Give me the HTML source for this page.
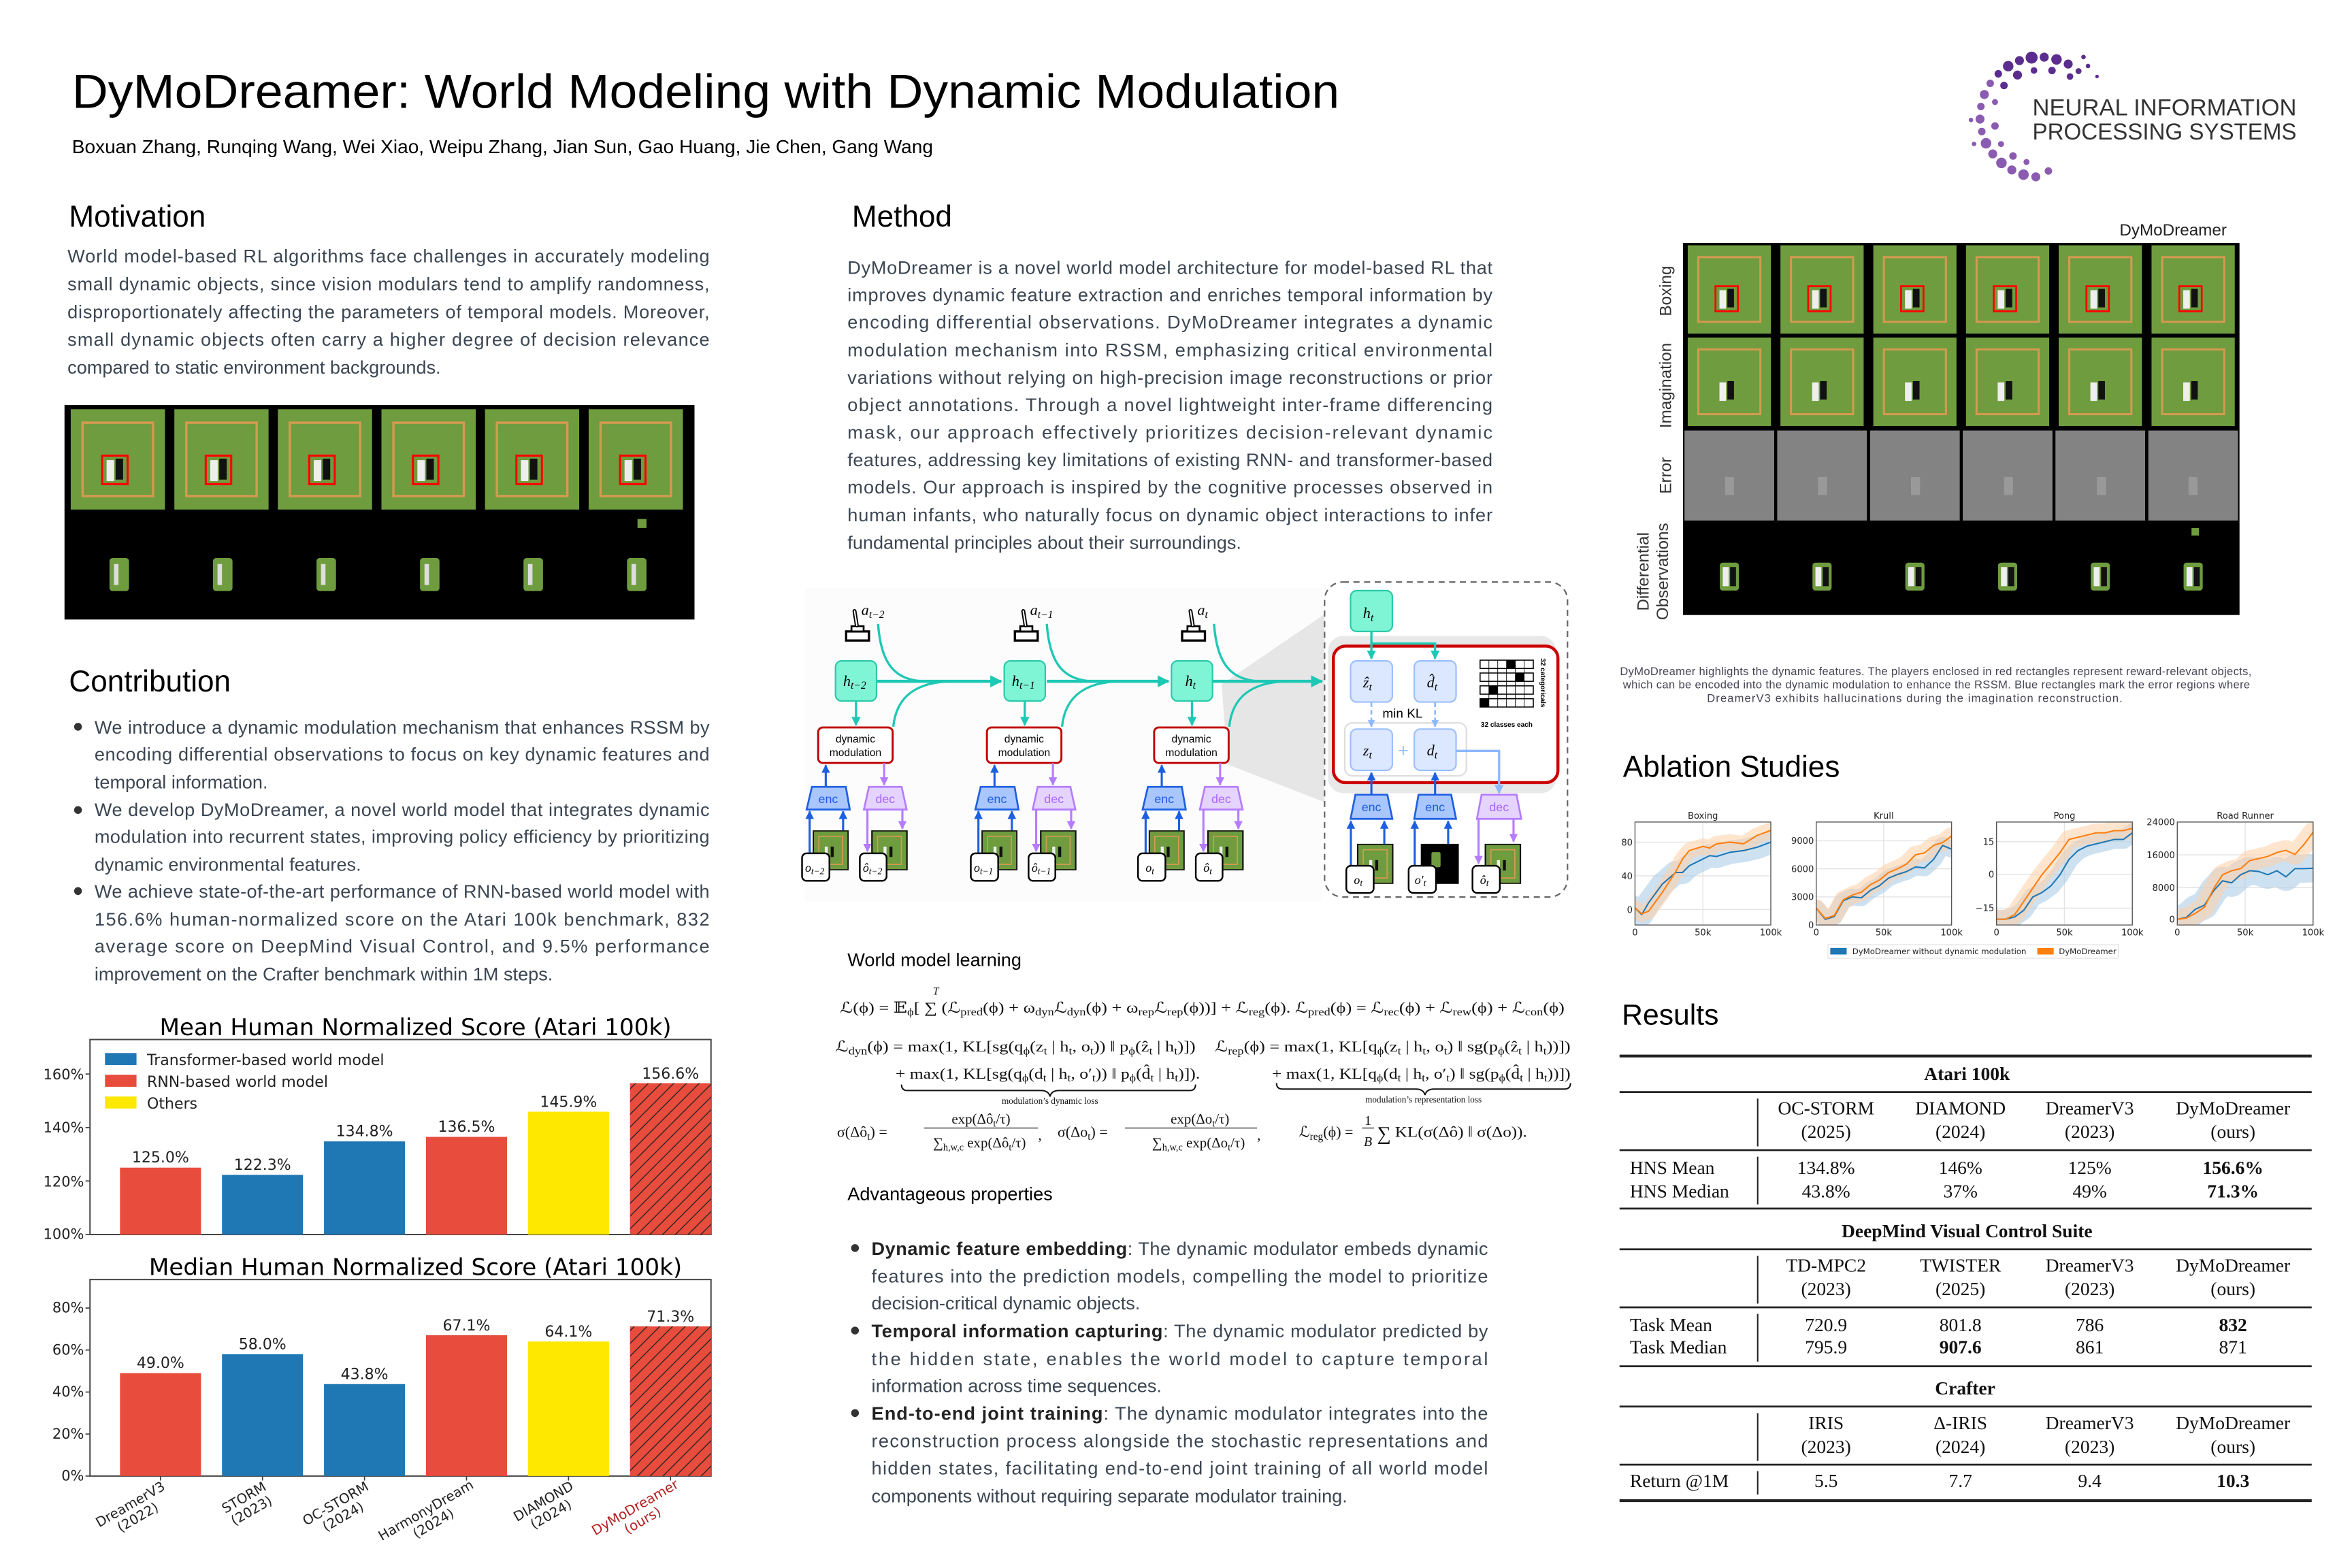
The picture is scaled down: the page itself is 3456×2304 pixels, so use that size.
<!DOCTYPE html>
<html><head><meta charset="utf-8"><style>
html,body{margin:0;padding:0;background:#fff;}
svg{display:block;}
.sf,.sf text,.sf tspan{font-family:"Liberation Serif","DejaVu Serif",serif;}
</style></head><body>
<svg xmlns="http://www.w3.org/2000/svg" width="3456" height="2304" viewBox="0 0 1568 1045.3" preserveAspectRatio="none" font-family="Liberation Sans, Arial, sans-serif">
<defs>
<symbol id="frR" viewBox="0 0 63 67">
<rect width="63" height="67" fill="#6e9c3f"/>
<rect x="8" y="9" width="47" height="49" fill="none" stroke="#d39a50" stroke-width="1.6"/>
<rect x="24" y="34" width="5" height="14" fill="#eee"/><rect x="30" y="33" width="5" height="14" fill="#111"/>
<rect x="21" y="31" width="17" height="19" fill="none" stroke="#f00" stroke-width="1.4"/>
</symbol>
<symbol id="fr" viewBox="0 0 63 67">
<rect width="63" height="67" fill="#6e9c3f"/>
<rect x="8" y="9" width="47" height="49" fill="none" stroke="#d39a50" stroke-width="1.6"/>
<rect x="24" y="34" width="5" height="14" fill="#eee"/><rect x="30" y="33" width="5" height="14" fill="#111"/>
</symbol>
<symbol id="frS" viewBox="0 0 24 27">
<rect width="24" height="27" fill="#6e9c3f" stroke="#111" stroke-width="1.5"/>
<rect x="4" y="4" width="16" height="19" fill="none" stroke="#d39a50" stroke-width="0.8"/>
<rect x="8" y="11" width="2" height="7" fill="#eee"/><rect x="12" y="11" width="2" height="7" fill="#111"/>
</symbol>
<symbol id="dif" viewBox="0 0 63 62">
<rect width="63" height="62" fill="#000"/>
<rect x="25" y="27" width="13" height="19" rx="2" fill="#6e9c3f"/>
<rect x="27" y="30" width="4" height="13" fill="#eee"/><rect x="32" y="30" width="4" height="13" fill="#111"/>
</symbol>
<marker id="mt" viewBox="0 0 10 10" refX="9" refY="5" markerWidth="4" markerHeight="4" orient="auto"><path d="M0,0L10,5L0,10z" fill="#1ec8b4"/></marker>
<marker id="mb" viewBox="0 0 10 10" refX="9" refY="5" markerWidth="4" markerHeight="4" orient="auto"><path d="M0,0L10,5L0,10z" fill="#1d5fe0"/></marker>
<marker id="mp" viewBox="0 0 10 10" refX="9" refY="5" markerWidth="4" markerHeight="4" orient="auto"><path d="M0,0L10,5L0,10z" fill="#b57cff"/></marker>
<marker id="ml" viewBox="0 0 10 10" refX="9" refY="5" markerWidth="4" markerHeight="4" orient="auto"><path d="M0,0L10,5L0,10z" fill="#8db8ff"/></marker>
<pattern id="hatch" patternUnits="userSpaceOnUse" width="6" height="6" patternTransform="rotate(45)"><rect width="6" height="6" fill="#e74c3c"/><line x1="0" y1="0" x2="0" y2="6" stroke="#222" stroke-width="1.2"/></pattern>
<clipPath id="c1"><rect x="33" y="45" width="290" height="220"/></clipPath>
<clipPath id="c2"><rect x="420" y="45" width="289" height="220"/></clipPath>
<clipPath id="c3"><rect x="805" y="45" width="290" height="220"/></clipPath>
<clipPath id="c4"><rect x="1191" y="45" width="290" height="220"/></clipPath>
</defs>

<!-- Header -->
<text x="48" y="72" font-size="32" textLength="845" lengthAdjust="spacingAndGlyphs">DyMoDreamer: World Modeling with Dynamic Modulation</text>
<text x="48" y="102" font-size="12.5" textLength="574" lengthAdjust="spacingAndGlyphs">Boxuan Zhang, Runqing Wang, Wei Xiao, Weipu Zhang, Jian Sun, Gao Huang, Jie Chen, Gang Wang</text>

<!-- Logo -->
<g fill="#5b2d8e">
<circle cx="1385.7" cy="47.4" r="2"/><circle cx="1378.8" cy="42.7" r="3"/><circle cx="1371" cy="39.6" r="3.5"/><circle cx="1362.8" cy="38.1" r="3"/><circle cx="1354.4" cy="38.4" r="4"/><circle cx="1346.3" cy="40.4" r="3"/><circle cx="1338.8" cy="44.1" r="3.5"/><circle cx="1332.2" cy="49.2" r="2.5"/>
<circle cx="1392" cy="44" r="1.5"/><circle cx="1380" cy="51" r="2.2"/><circle cx="1368" cy="47" r="2.5"/><circle cx="1356" cy="47" r="2.2"/><circle cx="1345" cy="50" r="3"/><circle cx="1336" cy="57" r="2.5"/><circle cx="1398" cy="51" r="1.2"/><circle cx="1389" cy="38" r="1.5"/>
</g>
<g fill="#8a5bb0">
<circle cx="1326.8" cy="55.6" r="2.5"/><circle cx="1322.9" cy="63" r="3"/><circle cx="1320.6" cy="71" r="2.5"/><circle cx="1320" cy="79.4" r="3"/><circle cx="1321.2" cy="87.7" r="2.5"/><circle cx="1324" cy="95.5" r="3.5"/><circle cx="1328.5" cy="102.6" r="3"/><circle cx="1334.3" cy="108.6" r="3.5"/><circle cx="1341.2" cy="113.3" r="3"/><circle cx="1349" cy="116.4" r="3.5"/><circle cx="1357.2" cy="117.9" r="3"/><circle cx="1365.6" cy="114" r="2.5"/>
<circle cx="1330" cy="68" r="2"/><circle cx="1330" cy="84" r="2.5"/><circle cx="1334" cy="96" r="2"/><circle cx="1342" cy="104" r="2.5"/><circle cx="1351" cy="108" r="2"/><circle cx="1314" cy="80" r="1.5"/><circle cx="1316" cy="96" r="1.5"/>
</g>
<text x="1355" y="77" font-size="15.5" fill="#333" textLength="176" lengthAdjust="spacingAndGlyphs">NEURAL INFORMATION</text>
<text x="1355" y="93" font-size="15.5" fill="#333" textLength="176" lengthAdjust="spacingAndGlyphs">PROCESSING SYSTEMS</text>

<!-- Motivation -->
<text x="46" y="151" font-size="20">Motivation</text>
<g font-size="12.3" fill="#3b4652">
<text x="45" y="175" textLength="428" lengthAdjust="spacing">World model-based RL algorithms face challenges in accurately modeling</text>
<text x="45" y="193.5" textLength="428" lengthAdjust="spacing">small dynamic objects, since  vision modulars tend to amplify randomness,</text>
<text x="45" y="212" textLength="428" lengthAdjust="spacing">disproportionately affecting the parameters of temporal models. Moreover,</text>
<text x="45" y="230.5" textLength="428" lengthAdjust="spacing">small dynamic objects often carry a higher degree of decision relevance</text>
<text x="45" y="249">compared to static environment backgrounds.</text>
</g>
<rect x="43" y="270" width="420" height="143" fill="#000"/>
<g>
<use href="#frR" x="47.1" y="272.6" width="62.9" height="67.3"/>
<use href="#frR" x="116.2" y="272.6" width="62.9" height="67.3"/>
<use href="#frR" x="185.2" y="272.6" width="62.9" height="67.3"/>
<use href="#frR" x="254.3" y="272.6" width="62.9" height="67.3"/>
<use href="#frR" x="323.3" y="272.6" width="62.9" height="67.3"/>
<use href="#frR" x="392.4" y="272.6" width="62.9" height="67.3"/>
</g>
<g fill="#6e9c3f">
<rect x="73" y="372" width="13" height="22" rx="2"/><rect x="142" y="372" width="13" height="22" rx="2"/><rect x="211" y="372" width="13" height="22" rx="2"/><rect x="280" y="372" width="13" height="22" rx="2"/><rect x="349" y="372" width="13" height="22" rx="2"/><rect x="418" y="372" width="13" height="22" rx="2"/>
<rect x="425" y="346" width="6" height="6"/>
</g>
<g fill="#ddd"><rect x="76" y="376" width="3" height="14"/><rect x="145" y="376" width="3" height="14"/><rect x="214" y="376" width="3" height="14"/><rect x="283" y="376" width="3" height="14"/><rect x="352" y="376" width="3" height="14"/><rect x="421" y="376" width="3" height="14"/></g>

<!-- Contribution -->
<text x="46" y="461" font-size="20">Contribution</text>
<g fill="#333"><circle cx="52" cy="484.5" r="2.6"/><circle cx="52" cy="540" r="2.6"/><circle cx="52" cy="594" r="2.6"/></g>
<g font-size="12.3" fill="#3b4652">
<text x="63" y="489" textLength="410" lengthAdjust="spacing">We introduce a dynamic modulation mechanism that enhances RSSM by</text>
<text x="63" y="507" textLength="410" lengthAdjust="spacing">encoding differential observations to focus on key dynamic features and</text>
<text x="63" y="525.5">temporal information.</text>
<text x="63" y="544" textLength="410" lengthAdjust="spacing">We develop DyMoDreamer, a novel world model that integrates dynamic</text>
<text x="63" y="562" textLength="410" lengthAdjust="spacing">modulation into recurrent states, improving policy efficiency by prioritizing</text>
<text x="63" y="580.5">dynamic environmental features.</text>
<text x="63" y="598.5" textLength="410" lengthAdjust="spacing">We achieve state-of-the-art performance of RNN-based world model with</text>
<text x="63" y="617" textLength="410" lengthAdjust="spacing">156.6% human-normalized score on the Atari 100k benchmark, 832</text>
<text x="63" y="635" textLength="410" lengthAdjust="spacing">average score on DeepMind Visual Control, and 9.5% performance</text>
<text x="63" y="653.5">improvement on the Crafter benchmark within 1M steps.</text>
</g>

<!-- Chart 1 -->
<g font-family="DejaVu Sans, sans-serif">
<text x="277" y="690" font-size="15.5" text-anchor="middle">Mean Human Normalized Score (Atari 100k)</text>
<rect x="60" y="693" width="414" height="130" fill="none" stroke="#444" stroke-width="0.9"/>
<g font-size="9.5" text-anchor="end" fill="#222">
<text x="56" y="826">100%</text><text x="56" y="791">120%</text><text x="56" y="755">140%</text><text x="56" y="719.5">160%</text>
</g>
<g stroke="#444" stroke-width="0.8"><line x1="57" y1="823" x2="60" y2="823"/><line x1="57" y1="787.3" x2="60" y2="787.3"/><line x1="57" y1="751.7" x2="60" y2="751.7"/><line x1="57" y1="716" x2="60" y2="716"/></g>
<rect x="80" y="778.4" width="54" height="44.6" fill="#e74c3c"/>
<rect x="148" y="783.2" width="54" height="39.8" fill="#1f77b4"/>
<rect x="216" y="760.9" width="54" height="62.1" fill="#1f77b4"/>
<rect x="284" y="757.9" width="54" height="65.1" fill="#e74c3c"/>
<rect x="352" y="741.1" width="54" height="81.9" fill="#ffe800"/>
<rect x="420" y="722.1" width="54" height="100.9" fill="url(#hatch)"/>
<g font-size="10" text-anchor="middle" fill="#222">
<text x="107" y="775">125.0%</text><text x="175" y="780">122.3%</text><text x="243" y="757.5">134.8%</text><text x="311" y="754.5">136.5%</text><text x="379" y="738">145.9%</text><text x="447" y="719">156.6%</text>
</g>
<rect x="70" y="702" width="21" height="8" fill="#1f77b4"/><rect x="70" y="716.5" width="21" height="8" fill="#e74c3c"/><rect x="70" y="731" width="21" height="8" fill="#ffe800"/>
<g font-size="10" fill="#222"><text x="98" y="710">Transformer-based world model</text><text x="98" y="724.5">RNN-based world model</text><text x="98" y="739">Others</text></g>

<!-- Chart 2 -->
<text x="277" y="850" font-size="15.5" text-anchor="middle">Median Human Normalized Score (Atari 100k)</text>
<rect x="60" y="853" width="414" height="131" fill="none" stroke="#444" stroke-width="0.9"/>
<g font-size="9.5" text-anchor="end" fill="#222">
<text x="56" y="987">0%</text><text x="56" y="959">20%</text><text x="56" y="931">40%</text><text x="56" y="903">60%</text><text x="56" y="875">80%</text>
</g>
<g stroke="#444" stroke-width="0.8"><line x1="57" y1="984" x2="60" y2="984"/><line x1="57" y1="956" x2="60" y2="956"/><line x1="57" y1="928" x2="60" y2="928"/><line x1="57" y1="900" x2="60" y2="900"/><line x1="57" y1="872" x2="60" y2="872"/></g>
<rect x="80" y="915.4" width="54" height="68.6" fill="#e74c3c"/>
<rect x="148" y="902.8" width="54" height="81.2" fill="#1f77b4"/>
<rect x="216" y="922.7" width="54" height="61.3" fill="#1f77b4"/>
<rect x="284" y="890.1" width="54" height="93.9" fill="#e74c3c"/>
<rect x="352" y="894.3" width="54" height="89.7" fill="#ffe800"/>
<rect x="420" y="884.2" width="54" height="99.8" fill="url(#hatch)"/>
<g font-size="10" text-anchor="middle" fill="#222">
<text x="107" y="912">49.0%</text><text x="175" y="899.5">58.0%</text><text x="243" y="919.5">43.8%</text><text x="311" y="887">67.1%</text><text x="379" y="891">64.1%</text><text x="447" y="881">71.3%</text>
</g>
<g stroke="#444" stroke-width="0.8"><line x1="107" y1="984" x2="107" y2="987"/><line x1="175" y1="984" x2="175" y2="987"/><line x1="243" y1="984" x2="243" y2="987"/><line x1="311" y1="984" x2="311" y2="987"/><line x1="379" y1="984" x2="379" y2="987"/><line x1="447" y1="984" x2="447" y2="987"/></g>
<g font-size="9" fill="#222" text-anchor="middle">
<g transform="translate(110,993) rotate(-30)"><text x="-25" y="0">DreamerV3</text><text x="-25" y="10">(2022)</text></g>
<g transform="translate(178,993) rotate(-30)"><text x="-16" y="0">STORM</text><text x="-16" y="10">(2023)</text></g>
<g transform="translate(246,993) rotate(-30)"><text x="-24" y="0">OC-STORM</text><text x="-24" y="10">(2024)</text></g>
<g transform="translate(314,993) rotate(-30)"><text x="-33" y="0">HarmonyDream</text><text x="-33" y="10">(2024)</text></g>
<g transform="translate(382,993) rotate(-30)"><text x="-21" y="0">DIAMOND</text><text x="-21" y="10">(2024)</text></g>
<g transform="translate(450,993) rotate(-30)" fill="#b22222"><text x="-29" y="0">DyMoDreamer</text><text x="-29" y="10">(ours)</text></g>
</g>
</g>

<!-- Method -->
<text x="568" y="151" font-size="20">Method</text>
<g font-size="12.3" fill="#3b4652">
<text x="565" y="182.5" textLength="430" lengthAdjust="spacing">DyMoDreamer is a novel world model architecture for model-based RL that</text>
<text x="565" y="200.8" textLength="430" lengthAdjust="spacing">improves dynamic feature extraction and enriches temporal information by</text>
<text x="565" y="219" textLength="430" lengthAdjust="spacing">encoding differential observations. DyMoDreamer integrates a dynamic</text>
<text x="565" y="237.5" textLength="430" lengthAdjust="spacing">modulation mechanism into RSSM, emphasizing critical environmental</text>
<text x="565" y="255.8" textLength="430" lengthAdjust="spacing">variations without relying on high-precision image reconstructions or prior</text>
<text x="565" y="274" textLength="430" lengthAdjust="spacing">object annotations. Through a novel lightweight inter-frame differencing</text>
<text x="565" y="292.5" textLength="430" lengthAdjust="spacing">mask, our approach effectively prioritizes decision-relevant dynamic</text>
<text x="565" y="310.8" textLength="430" lengthAdjust="spacing">features, addressing key limitations of existing RNN- and transformer-based</text>
<text x="565" y="329" textLength="430" lengthAdjust="spacing">models. Our approach is inspired by the cognitive processes observed in</text>
<text x="565" y="347.5" textLength="430" lengthAdjust="spacing">human infants, who naturally focus on dynamic object interactions to infer</text>
<text x="565" y="365.8">fundamental principles about their surroundings.</text>
</g>

<!-- Diagram -->
<g transform="translate(557,388) scale(1.0135,1.0077) translate(-552,-384.3)">
<rect x="532" y="388" width="340" height="208" fill="#fcfcfc"/>
<polygon points="806,452 879,402 879,532 810,505" fill="#e6e6e6"/>
<rect x="873.7" y="384.3" width="159.8" height="208.4" rx="12" fill="#fff" stroke="#666" stroke-width="1" stroke-dasharray="4,3"/>
<rect x="876" y="420" width="150" height="104" rx="10" fill="#e8e8e8"/>
<g stroke="#1ec8b4" stroke-width="2" fill="none">
<line x1="579" y1="450" x2="661" y2="450" marker-end="url(#mt)"/>
<line x1="691" y1="450" x2="771" y2="450" marker-end="url(#mt)"/>
<line x1="800" y1="450" x2="872" y2="450" marker-end="url(#mt)"/>
</g>
<g id="ts0">
<g stroke="#1ec8b4" stroke-width="1.5" fill="none">
<path d="M580,412 C582,440 592,449 610,450"/>
<path d="M590,480 C592,460 605,450 630,450"/>
<line x1="565.5" y1="462.5" x2="565.5" y2="479" marker-end="url(#mt)"/>
</g>
<rect x="559" y="417" width="15" height="6" fill="#fff" stroke="#000" stroke-width="1.5"/>
<rect x="562.5" y="413.5" width="8" height="3.5" fill="#fff" stroke="#000" stroke-width="1.2"/>
<line x1="566" y1="413" x2="564.5" y2="403.5" stroke="#000" stroke-width="2.6" stroke-linecap="round"/>
<line x1="566" y1="413" x2="564.5" y2="403.5" stroke="#fff" stroke-width="0.9" stroke-linecap="round"/>
<rect x="552" y="436.5" width="27" height="26.5" rx="4" fill="#7ff5d5" stroke="#2cc9aa" stroke-width="1"/>
<rect x="540.6" y="480.5" width="49" height="23.5" rx="3" fill="#fff" stroke="#c00000" stroke-width="1.3"/>
<text x="565.1" y="490.5" font-size="7" text-anchor="middle">dynamic</text>
<text x="565.1" y="499.5" font-size="7" text-anchor="middle">modulation</text>
<g stroke="#1d5fe0" stroke-width="1.4" fill="none">
<line x1="545.6" y1="519.8" x2="545.6" y2="505.5" marker-end="url(#mb)"/>
<line x1="535" y1="563.8" x2="535" y2="536" marker-end="url(#mb)"/>
<line x1="557" y1="548.6" x2="557" y2="536" marker-end="url(#mb)"/>
</g>
<g stroke="#b57cff" stroke-width="1.4" fill="none">
<line x1="584" y1="504" x2="584" y2="518.5" marker-end="url(#mp)"/>
<line x1="573" y1="534.8" x2="573" y2="562.5" marker-end="url(#mp)"/>
<line x1="596" y1="534.8" x2="596" y2="547.5" marker-end="url(#mp)"/>
</g>
<polygon points="536.5,519.8 558.8,519.8 561.4,534.8 533,534.8" fill="#a9c6ff" stroke="#1d5fe0" stroke-width="1.2"/>
<text x="547.2" y="530.5" font-size="8" fill="#1d5fe0" text-anchor="middle">enc</text>
<polygon points="574,519.8 595.5,519.8 598.8,534.8 570.7,534.8" fill="#e5d4ff" stroke="#b57cff" stroke-width="1.2"/>
<text x="584.7" y="530.5" font-size="8" fill="#a966ff" text-anchor="middle">dec</text>
<use href="#frS" x="537" y="548.6" width="23.7" height="26.4"/>
<use href="#frS" x="575.5" y="548.6" width="24" height="26.4"/>
</g>
<use href="#ts0" x="111"/>
<use href="#ts0" x="221"/>
<g class="sf" font-style="italic" font-size="10">
<text x="569" y="406">a<tspan font-size="7" dy="2">t−2</tspan></text>
<text x="680" y="406">a<tspan font-size="7" dy="2">t−1</tspan></text>
<text x="790" y="406">a<tspan font-size="7" dy="2">t</tspan></text>
<text x="557" y="453">h<tspan font-size="7" dy="2">t−2</tspan></text>
<text x="668" y="453">h<tspan font-size="7" dy="2">t−1</tspan></text>
<text x="782" y="453">h<tspan font-size="7" dy="2">t</tspan></text>
</g>
<g fill="#fff" stroke="#000" stroke-width="1.1">
<rect x="530" y="563.8" width="18" height="18.2" rx="3"/><rect x="568" y="563.8" width="17.6" height="18.2" rx="3"/>
<rect x="641" y="563.8" width="18" height="18.2" rx="3"/><rect x="679" y="563.8" width="17.6" height="18.2" rx="3"/>
<rect x="751" y="563.8" width="18" height="18.2" rx="3"/><rect x="789" y="563.8" width="17.6" height="18.2" rx="3"/>
</g>
<g class="sf" font-style="italic" font-size="8">
<text x="532" y="576">o<tspan font-size="6" dy="1.5">t−2</tspan></text>
<text x="570" y="576">ô<tspan font-size="6" dy="1.5">t−2</tspan></text>
<text x="643" y="576">o<tspan font-size="6" dy="1.5">t−1</tspan></text>
<text x="681" y="576">ô<tspan font-size="6" dy="1.5">t−1</tspan></text>
<text x="756" y="576">o<tspan font-size="6" dy="1.5">t</tspan></text>
<text x="794" y="576">ô<tspan font-size="6" dy="1.5">t</tspan></text>
</g>
<rect x="879.5" y="426.7" width="147.7" height="90.3" rx="8" fill="#fff" stroke="#cc0000" stroke-width="2"/>
<g stroke="#1ec8b4" stroke-width="1.5" fill="none">
<line x1="904.5" y1="417" x2="904.5" y2="435" marker-end="url(#mt)"/>
<polyline points="904.5,425 946.4,425 946.4,435" marker-end="url(#mt)"/>
</g>
<rect x="890.8" y="390" width="27.5" height="27" rx="4" fill="#7ff5d5" stroke="#2cc9aa"/>
<text class="sf" x="899" y="408" font-style="italic" font-size="10">h<tspan font-size="7" dy="2">t</tspan></text>
<rect x="887" y="477.5" width="80" height="35" rx="5" fill="none" stroke="#ddd"/>
<g fill="#dce8ff" stroke="#9cc0ff">
<rect x="890.8" y="436.5" width="27.5" height="27.2" rx="4"/><rect x="932.7" y="436.5" width="27.5" height="27.2" rx="4"/>
<rect x="890.8" y="481.6" width="27.5" height="27.3" rx="4"/><rect x="932.7" y="481.6" width="27.5" height="27.3" rx="4"/>
</g>
<g class="sf" font-style="italic" font-size="10">
<text x="899" y="454">ẑ<tspan font-size="7" dy="2">t</tspan></text><text x="941" y="454">d̂<tspan font-size="7" dy="2">t</tspan></text>
<text x="899" y="499">z<tspan font-size="7" dy="2">t</tspan></text><text x="941" y="499">d<tspan font-size="7" dy="2">t</tspan></text>
</g>
<g stroke="#8db8ff" stroke-width="1.2" fill="none">
<line x1="904.5" y1="464" x2="904.5" y2="480" stroke-dasharray="3,2" marker-end="url(#ml)"/>
<line x1="946.4" y1="464" x2="946.4" y2="480" stroke-dasharray="3,2" marker-end="url(#ml)"/>
<polyline points="960.2,496 988.5,496 988.5,524" stroke-width="1.5" marker-end="url(#ml)"/>
</g>
<text x="925" y="474" font-size="8.5" text-anchor="middle">min KL</text>
<text x="925.5" y="500" font-size="12" fill="#9cc0ff" text-anchor="middle">+</text>
<g stroke="#000" stroke-width="0.7" fill="#fff">
<rect x="976" y="436" width="35" height="5.5"/><rect x="976" y="444.5" width="35" height="5.5"/><rect x="976" y="453" width="35" height="5.5"/><rect x="976" y="461.5" width="35" height="5.5"/>
</g>
<g fill="#000"><rect x="993.5" y="436" width="5.8" height="5.5"/><rect x="999.3" y="444.5" width="5.8" height="5.5"/><rect x="981.8" y="453" width="5.8" height="5.5"/><rect x="976" y="461.5" width="5.8" height="5.5"/></g>
<g stroke="#000" stroke-width="0.4"><line x1="981.8" y1="436" x2="981.8" y2="467"/><line x1="987.6" y1="436" x2="987.6" y2="467"/><line x1="993.4" y1="436" x2="993.4" y2="467"/><line x1="999.2" y1="436" x2="999.2" y2="467"/><line x1="1005" y1="436" x2="1005" y2="467"/></g>
<text x="993.5" y="480" font-size="4.5" font-weight="bold" text-anchor="middle">32 classes each</text>
<text transform="translate(1016,451) rotate(90)" font-size="4.5" font-weight="bold" text-anchor="middle">32 categoricals</text>
<g stroke="#1d5fe0" stroke-width="1.4" fill="none">
<line x1="904.5" y1="525" x2="904.5" y2="510.5" marker-end="url(#mb)"/>
<line x1="946.4" y1="525" x2="946.4" y2="510.5" marker-end="url(#mb)"/>
<line x1="891" y1="572" x2="891" y2="542.5" marker-end="url(#mb)"/>
<line x1="913" y1="557.5" x2="913" y2="542.5" marker-end="url(#mb)"/>
<line x1="933" y1="572" x2="933" y2="542.5" marker-end="url(#mb)"/>
<line x1="955" y1="557.5" x2="955" y2="542.5" marker-end="url(#mb)"/>
</g>
<g stroke="#b57cff" stroke-width="1.4" fill="none">
<line x1="975" y1="541" x2="975" y2="570.5" marker-end="url(#mp)"/>
<line x1="998" y1="541" x2="998" y2="556" marker-end="url(#mp)"/>
</g>
<polygon points="894,525 915,525 918.3,541 890.8,541" fill="#a9c6ff" stroke="#1d5fe0" stroke-width="1.2"/>
<polygon points="935.5,525 957,525 960.2,541 932.7,541" fill="#a9c6ff" stroke="#1d5fe0" stroke-width="1.2"/>
<polygon points="977,525 1000,525 1003.1,541 973.9,541" fill="#e5d4ff" stroke="#b57cff" stroke-width="1.2"/>
<g font-size="8" text-anchor="middle"><text x="904.5" y="536" fill="#1d5fe0">enc</text><text x="946.4" y="536" fill="#1d5fe0">enc</text><text x="988.5" y="536" fill="#a966ff">dec</text></g>
<use href="#frS" x="895" y="557.5" width="24" height="26.5"/>
<rect x="937" y="557.5" width="25" height="26.5" fill="#000"/><rect x="944" y="563" width="6" height="10" rx="1" fill="#6e9c3f"/>
<use href="#frS" x="979" y="557.5" width="24" height="26.5"/>
<g fill="#fff" stroke="#000" stroke-width="1.1"><rect x="888" y="572" width="18" height="18" rx="3"/><rect x="929" y="572" width="18" height="18" rx="3"/><rect x="971" y="572" width="18" height="18" rx="3"/></g>
<g class="sf" font-style="italic" font-size="8">
<text x="893" y="584">o<tspan font-size="6" dy="1.5">t</tspan></text>
<text x="933" y="584">o′<tspan font-size="6" dy="1.5">t</tspan></text>
<text x="976" y="584">ô<tspan font-size="6" dy="1.5">t</tspan></text>
</g>
</g>

<!-- World model learning -->
<text x="565" y="644" font-size="12.3">World model learning</text>
<g class="sf" font-size="10" fill="#111">
<text x="622" y="663" font-size="7" font-style="italic">T</text>
<text x="560" y="675" textLength="483" lengthAdjust="spacingAndGlyphs">ℒ(ϕ) = 𝔼<tspan font-size="7" dy="2">ϕ</tspan><tspan dy="-2">[ ∑ (ℒ</tspan><tspan font-size="7" dy="2">pred</tspan><tspan dy="-2">(ϕ) + ω</tspan><tspan font-size="7" dy="2">dyn</tspan><tspan dy="-2">ℒ</tspan><tspan font-size="7" dy="2">dyn</tspan><tspan dy="-2">(ϕ) + ω</tspan><tspan font-size="7" dy="2">rep</tspan><tspan dy="-2">ℒ</tspan><tspan font-size="7" dy="2">rep</tspan><tspan dy="-2">(ϕ))] + ℒ</tspan><tspan font-size="7" dy="2">reg</tspan><tspan dy="-2">(ϕ).  ℒ</tspan><tspan font-size="7" dy="2">pred</tspan><tspan dy="-2">(ϕ) = ℒ</tspan><tspan font-size="7" dy="2">rec</tspan><tspan dy="-2">(ϕ) + ℒ</tspan><tspan font-size="7" dy="2">rew</tspan><tspan dy="-2">(ϕ) + ℒ</tspan><tspan font-size="7" dy="2">con</tspan><tspan dy="-2">(ϕ)</tspan></text>
<text x="557" y="701" textLength="240" lengthAdjust="spacingAndGlyphs">ℒ<tspan font-size="7" dy="2">dyn</tspan><tspan dy="-2">(ϕ) = max(1, KL[sg(q</tspan><tspan font-size="7" dy="2">ϕ</tspan><tspan dy="-2">(z</tspan><tspan font-size="7" dy="2">t</tspan><tspan dy="-2"> | h</tspan><tspan font-size="7" dy="2">t</tspan><tspan dy="-2">, o</tspan><tspan font-size="7" dy="2">t</tspan><tspan dy="-2">)) ‖ p</tspan><tspan font-size="7" dy="2">ϕ</tspan><tspan dy="-2">(ẑ</tspan><tspan font-size="7" dy="2">t</tspan><tspan dy="-2"> | h</tspan><tspan font-size="7" dy="2">t</tspan><tspan dy="-2">)])</tspan></text>
<text x="810" y="701" textLength="237" lengthAdjust="spacingAndGlyphs">ℒ<tspan font-size="7" dy="2">rep</tspan><tspan dy="-2">(ϕ) = max(1, KL[q</tspan><tspan font-size="7" dy="2">ϕ</tspan><tspan dy="-2">(z</tspan><tspan font-size="7" dy="2">t</tspan><tspan dy="-2"> | h</tspan><tspan font-size="7" dy="2">t</tspan><tspan dy="-2">, o</tspan><tspan font-size="7" dy="2">t</tspan><tspan dy="-2">) ‖ sg(p</tspan><tspan font-size="7" dy="2">ϕ</tspan><tspan dy="-2">(ẑ</tspan><tspan font-size="7" dy="2">t</tspan><tspan dy="-2"> | h</tspan><tspan font-size="7" dy="2">t</tspan><tspan dy="-2">))])</tspan></text>
<text x="597" y="719" textLength="203" lengthAdjust="spacingAndGlyphs">+ max(1, KL[sg(q<tspan font-size="7" dy="2">ϕ</tspan><tspan dy="-2">(d</tspan><tspan font-size="7" dy="2">t</tspan><tspan dy="-2"> | h</tspan><tspan font-size="7" dy="2">t</tspan><tspan dy="-2">, o′</tspan><tspan font-size="7" dy="2">t</tspan><tspan dy="-2">)) ‖ p</tspan><tspan font-size="7" dy="2">ϕ</tspan><tspan dy="-2">(d̂</tspan><tspan font-size="7" dy="2">t</tspan><tspan dy="-2"> | h</tspan><tspan font-size="7" dy="2">t</tspan><tspan dy="-2">)]).</tspan></text>
<text x="848" y="719" textLength="199" lengthAdjust="spacingAndGlyphs">+ max(1, KL[q<tspan font-size="7" dy="2">ϕ</tspan><tspan dy="-2">(d</tspan><tspan font-size="7" dy="2">t</tspan><tspan dy="-2"> | h</tspan><tspan font-size="7" dy="2">t</tspan><tspan dy="-2">, o′</tspan><tspan font-size="7" dy="2">t</tspan><tspan dy="-2">) ‖ sg(p</tspan><tspan font-size="7" dy="2">ϕ</tspan><tspan dy="-2">(d̂</tspan><tspan font-size="7" dy="2">t</tspan><tspan dy="-2"> | h</tspan><tspan font-size="7" dy="2">t</tspan><tspan dy="-2">))])</tspan></text>
<text x="700" y="736" font-size="6" text-anchor="middle">modulation’s dynamic loss</text>
<text x="949" y="735" font-size="6" text-anchor="middle">modulation’s representation loss</text>
<text x="558" y="758">σ(Δô<tspan font-size="7" dy="2">t</tspan><tspan dy="-2">) =</tspan></text>
<text x="654" y="749" text-anchor="middle" font-size="9.5">exp(Δô<tspan font-size="6.5" dy="2">t</tspan><tspan dy="-2">/τ)</tspan></text>
<text x="653" y="765" text-anchor="middle" font-size="9.5">∑<tspan font-size="6.5" dy="2">h,w,c</tspan><tspan dy="-2"> exp(Δô</tspan><tspan font-size="6.5" dy="2">t</tspan><tspan dy="-2">/τ)</tspan></text>
<text x="692" y="760">,</text>
<text x="705" y="758">σ(Δo<tspan font-size="7" dy="2">t</tspan><tspan dy="-2">) =</tspan></text>
<text x="800" y="749" text-anchor="middle" font-size="9.5">exp(Δo<tspan font-size="6.5" dy="2">t</tspan><tspan dy="-2">/τ)</tspan></text>
<text x="799" y="765" text-anchor="middle" font-size="9.5">∑<tspan font-size="6.5" dy="2">h,w,c</tspan><tspan dy="-2"> exp(Δo</tspan><tspan font-size="6.5" dy="2">t</tspan><tspan dy="-2">/τ)</tspan></text>
<text x="838" y="760">,</text>
<text x="866" y="758">ℒ<tspan font-size="7" dy="2">reg</tspan><tspan dy="-2">(ϕ) =</tspan></text>
<text x="912" y="750" font-size="9" text-anchor="middle">1</text><text x="912" y="764" font-size="9" text-anchor="middle" font-style="italic">B</text>
<text x="918" y="760" font-size="13">∑</text>
<text x="930" y="758" textLength="88" lengthAdjust="spacingAndGlyphs">KL(σ(Δô) ‖ σ(Δo)).</text>
</g>
<g stroke="#111" stroke-width="0.6" fill="none">
<line x1="616" y1="752" x2="692" y2="752"/><line x1="750" y1="752" x2="838" y2="752"/><line x1="908" y1="752" x2="916" y2="752"/>
<path d="M601,723 q0,4 4,4 h89 q5,0 6,4 q1,-4 6,-4 h87 q4,0 4,-4" stroke-width="0.9"/>
<path d="M851,722 q0,4 4,4 h89 q5,0 6,4 q1,-4 6,-4 h87 q4,0 4,-4" stroke-width="0.9"/>
</g>

<!-- Advantageous -->
<text x="565" y="800" font-size="12.3">Advantageous properties</text>
<g fill="#333"><circle cx="570" cy="832" r="2.6"/><circle cx="570" cy="887" r="2.6"/><circle cx="570" cy="942" r="2.6"/></g>
<g font-size="12.3" fill="#3b4652">
<text x="581" y="836.5" textLength="411" lengthAdjust="spacing"><tspan font-weight="bold" fill="#222">Dynamic feature embedding</tspan>: The dynamic modulator embeds dynamic</text>
<text x="581" y="855" textLength="411" lengthAdjust="spacing">features into the prediction models, compelling the model to prioritize</text>
<text x="581" y="873">decision-critical dynamic objects.</text>
<text x="581" y="891.5" textLength="411" lengthAdjust="spacing"><tspan font-weight="bold" fill="#222">Temporal information capturing</tspan>: The dynamic modulator predicted by</text>
<text x="581" y="910" textLength="411" lengthAdjust="spacing">the hidden state, enables the world model to capture temporal</text>
<text x="581" y="928">information across time sequences.</text>
<text x="581" y="946.5" textLength="411" lengthAdjust="spacing"><tspan font-weight="bold" fill="#222">End-to-end joint training</tspan>: The dynamic modulator integrates into the</text>
<text x="581" y="964.8" textLength="411" lengthAdjust="spacing">reconstruction process alongside the stochastic representations and</text>
<text x="581" y="983" textLength="411" lengthAdjust="spacing">hidden states, facilitating end-to-end joint training of all world model</text>
<text x="581" y="1001.5">components without requiring separate modulator training.</text>
</g>

<!-- Right grid -->
<text x="1413" y="157" font-size="11" fill="#222">DyMoDreamer</text>
<rect x="1122" y="162" width="371" height="248" fill="#000"/>
<g>
<use href="#frR" x="1123.5" y="163.5" width="58.8" height="59"/><use href="#frR" x="1185.3" y="163.5" width="58.8" height="59"/><use href="#frR" x="1247.2" y="163.5" width="58.8" height="59"/><use href="#frR" x="1309" y="163.5" width="58.8" height="59"/><use href="#frR" x="1370.8" y="163.5" width="58.8" height="59"/><use href="#frR" x="1432.7" y="163.5" width="58.8" height="59"/>
<use href="#fr" x="1123.5" y="225" width="58.8" height="59"/><use href="#fr" x="1185.3" y="225" width="58.8" height="59"/><use href="#fr" x="1247.2" y="225" width="58.8" height="59"/><use href="#fr" x="1309" y="225" width="58.8" height="59"/><use href="#fr" x="1370.8" y="225" width="58.8" height="59"/><use href="#fr" x="1432.7" y="225" width="58.8" height="59"/>
</g>
<g fill="#838383"><rect x="1123" y="287" width="59.8" height="60"/><rect x="1184.8" y="287" width="59.8" height="60"/><rect x="1246.7" y="287" width="59.8" height="60"/><rect x="1308.5" y="287" width="59.8" height="60"/><rect x="1370.3" y="287" width="59.8" height="60"/><rect x="1432.2" y="287" width="59.8" height="60"/></g>
<g fill="#999"><rect x="1150" y="318" width="6" height="12"/><rect x="1212" y="318" width="6" height="12"/><rect x="1274" y="318" width="6" height="12"/><rect x="1336" y="318" width="6" height="12"/><rect x="1398" y="318" width="6" height="12"/><rect x="1459" y="318" width="6" height="12"/></g>
<g>
<use href="#dif" x="1122" y="348" width="61.8" height="62"/><use href="#dif" x="1183.8" y="348" width="61.8" height="62"/><use href="#dif" x="1245.7" y="348" width="61.8" height="62"/><use href="#dif" x="1307.5" y="348" width="61.8" height="62"/><use href="#dif" x="1369.3" y="348" width="61.8" height="62"/><use href="#dif" x="1431.2" y="348" width="61.8" height="62"/>
</g>
<rect x="1461" y="352" width="5" height="5" fill="#6e9c3f"/>
<g font-size="11" fill="#333" text-anchor="middle">
<text transform="translate(1114,194) rotate(-90)">Boxing</text>
<text transform="translate(1114,257) rotate(-90)">Imagination</text>
<text transform="translate(1114,317) rotate(-90)">Error</text>
<text transform="translate(1099,381) rotate(-90)">Differential</text>
<text transform="translate(1112,381) rotate(-90)">Observations</text>
</g>
<g font-size="7.5" fill="#445">
<text x="1080" y="450" textLength="421" lengthAdjust="spacing">DyMoDreamer  highlights  the  dynamic  features.  The  players  enclosed  in red rectangles  represent  reward-relevant  objects,</text>
<text x="1082" y="459" textLength="418" lengthAdjust="spacing">which  can be encoded  into the dynamic  modulation  to enhance  the RSSM.  Blue rectangles  mark the error regions  where</text>
<text x="1138" y="468" textLength="277" lengthAdjust="spacing">DreamerV3  exhibits  hallucinations  during the imagination  reconstruction.</text>
</g>

<text x="1082" y="518" font-size="20">Ablation Studies</text>

<g transform="translate(1090,548) scale(0.3122,0.312) translate(-33,-45)">
<g stroke="#e3e3e3" stroke-width="2">
<line x1="33" y1="88" x2="323" y2="88"/><line x1="33" y1="160" x2="323" y2="160"/><line x1="33" y1="232" x2="323" y2="232"/><line x1="178" y1="45" x2="178" y2="265"/>
<line x1="420" y1="85" x2="709" y2="85"/><line x1="420" y1="145" x2="709" y2="145"/><line x1="420" y1="205" x2="709" y2="205"/><line x1="564" y1="45" x2="564" y2="265"/>
<line x1="805" y1="87" x2="1095" y2="87"/><line x1="805" y1="157" x2="1095" y2="157"/><line x1="805" y1="229" x2="1095" y2="229"/><line x1="950" y1="45" x2="950" y2="265"/>
<line x1="1191" y1="115" x2="1481" y2="115"/><line x1="1191" y1="185" x2="1481" y2="185"/><line x1="1336" y1="45" x2="1336" y2="265"/>
</g>
<g fill="none" stroke-linejoin="round" stroke-linecap="round">
<g clip-path="url(#c1)">
<polyline stroke="#aecde6" stroke-opacity="0.6" stroke-width="50" points="33,228.4 47.5,242.8 62,217.6 91,178 120,152.8 134.5,152.8 149,138.4 178,124 192.5,116.8 207,118.6 236,109.6 265,106 294,98.8 323,88"/>
<polyline stroke="#ffcfa6" stroke-opacity="0.55" stroke-width="34" points="33,228.4 47.5,241 62,235.6 91,196 120,151 134.5,124 149,106 178,97 192.5,100.6 207,91.6 236,88 265,91.6 294,73.6 323,62.8"/>
<polyline stroke="#1f77b4" stroke-width="3" points="33,228.4 47.5,242.8 62,217.6 91,178 120,152.8 134.5,152.8 149,138.4 178,124 192.5,116.8 207,118.6 236,109.6 265,106 294,98.8 323,88"/>
<polyline stroke="#ff7f0e" stroke-width="3" points="33,228.4 47.5,241 62,235.6 91,196 120,151 134.5,124 149,106 178,97 192.5,100.6 207,91.6 236,88 265,91.6 294,73.6 323,62.8"/>
</g>
<g clip-path="url(#c2)">
<polyline stroke="#aecde6" stroke-opacity="0.6" stroke-width="36" points="420,229 439.3,253 458.5,247 477.8,213 497.1,205 516.3,207 535.6,191 554.9,181 574.1,165 593.4,157 612.7,151 631.9,141 651.2,143 670.5,125 689.7,95 709,103"/>
<polyline stroke="#ffcfa6" stroke-opacity="0.55" stroke-width="38" points="420,229 439.3,251 458.5,245 477.8,211 497.1,201 516.3,195 535.6,179 554.9,169 574.1,153 593.4,145 612.7,135 631.9,115 651.2,111 670.5,95 689.7,89 709,75"/>
<polyline stroke="#1f77b4" stroke-width="3" points="420,229 439.3,253 458.5,247 477.8,213 497.1,205 516.3,207 535.6,191 554.9,181 574.1,165 593.4,157 612.7,151 631.9,141 651.2,143 670.5,125 689.7,95 709,103"/>
<polyline stroke="#ff7f0e" stroke-width="3" points="420,229 439.3,251 458.5,245 477.8,211 497.1,201 516.3,195 535.6,179 554.9,169 574.1,153 593.4,145 612.7,135 631.9,115 651.2,111 670.5,95 689.7,89 709,75"/>
</g>
<g clip-path="url(#c3)">
<polyline stroke="#aecde6" stroke-opacity="0.6" stroke-width="40" points="805,252.6 824.3,252.6 843.7,247.9 863,233.7 882.3,205.3 901.7,195.8 921,181.7 940.3,158 959.7,124.9 979,106 998.3,96.5 1017.7,91.8 1037,87 1056.3,82.3 1075.7,82.3 1095,68.1"/>
<polyline stroke="#ffcfa6" stroke-opacity="0.55" stroke-width="40" points="805,252.6 824.3,252.6 843.7,243.1 863,214.8 882.3,186.4 901.7,158 921,134.4 940.3,110.7 959.7,82.3 979,77.6 998.3,72.9 1017.7,68.1 1037,68.1 1056.3,63.4 1075.7,63.4 1095,58.7"/>
<polyline stroke="#1f77b4" stroke-width="3" points="805,252.6 824.3,252.6 843.7,247.9 863,233.7 882.3,205.3 901.7,195.8 921,181.7 940.3,158 959.7,124.9 979,106 998.3,96.5 1017.7,91.8 1037,87 1056.3,82.3 1075.7,82.3 1095,68.1"/>
<polyline stroke="#ff7f0e" stroke-width="3" points="805,252.6 824.3,252.6 843.7,243.1 863,214.8 882.3,186.4 901.7,158 921,134.4 940.3,110.7 959.7,82.3 979,77.6 998.3,72.9 1017.7,68.1 1037,68.1 1056.3,63.4 1075.7,63.4 1095,58.7"/>
</g>
<g clip-path="url(#c4)">
<polyline stroke="#aecde6" stroke-opacity="0.6" stroke-width="60" points="1191,253 1210.3,248.7 1229.7,231.3 1249,222.7 1268.3,192.3 1287.7,170.6 1307,175 1326.3,157.6 1345.7,149 1365,150.7 1384.3,157.6 1403.7,149 1423,162 1442.3,144.6 1461.7,144.6 1481,143.8"/>
<polyline stroke="#ffcfa6" stroke-opacity="0.55" stroke-width="44" points="1191,253 1210.3,250.4 1229.7,240 1249,227 1268.3,188 1287.7,157.6 1307,149 1326.3,144.6 1345.7,127.3 1365,123 1384.3,118.6 1403.7,110 1423,105.6 1442.3,114.3 1461.7,92.6 1481,66.6"/>
<polyline stroke="#1f77b4" stroke-width="3" points="1191,253 1210.3,248.7 1229.7,231.3 1249,222.7 1268.3,192.3 1287.7,170.6 1307,175 1326.3,157.6 1345.7,149 1365,150.7 1384.3,157.6 1403.7,149 1423,162 1442.3,144.6 1461.7,144.6 1481,143.8"/>
<polyline stroke="#ff7f0e" stroke-width="3" points="1191,253 1210.3,250.4 1229.7,240 1249,227 1268.3,188 1287.7,157.6 1307,149 1326.3,144.6 1345.7,127.3 1365,123 1384.3,118.6 1403.7,110 1423,105.6 1442.3,114.3 1461.7,92.6 1481,66.6"/>
</g>
</g>
<g fill="none" stroke="#555" stroke-width="2">
<rect x="33" y="45" width="290" height="220"/><rect x="420" y="45" width="289" height="220"/><rect x="805" y="45" width="290" height="220"/><rect x="1191" y="45" width="290" height="220"/>
</g>
<g font-size="19" fill="#222" font-family="DejaVu Sans, sans-serif">
<g text-anchor="middle">
<text x="178" y="38">Boxing</text><text x="564" y="38">Krull</text><text x="950" y="38">Pong</text><text x="1336" y="38">Road Runner</text>
<text x="33" y="287">0</text><text x="178" y="287">50k</text><text x="323" y="287">100k</text>
<text x="420" y="287">0</text><text x="564" y="287">50k</text><text x="709" y="287">100k</text>
<text x="805" y="287">0</text><text x="950" y="287">50k</text><text x="1095" y="287">100k</text>
<text x="1191" y="287">0</text><text x="1336" y="287">50k</text><text x="1481" y="287">100k</text>
</g>
<g text-anchor="end">
<text x="28" y="95">80</text><text x="28" y="167">40</text><text x="28" y="239">0</text>
<text x="415" y="92">9000</text><text x="415" y="152">6000</text><text x="415" y="212">3000</text><text x="415" y="272">0</text>
<text x="800" y="94">15</text><text x="800" y="164">0</text><text x="800" y="236">−15</text>
<text x="1186" y="52">24000</text><text x="1186" y="122">16000</text><text x="1186" y="192">8000</text><text x="1186" y="260">0</text>
</g>
</g>
<rect x="445" y="307" width="620" height="29" fill="#fff" stroke="#ddd" stroke-width="1.5"/>
<rect x="450" y="314" width="35" height="14" fill="#1f77b4"/><rect x="892" y="314" width="35" height="14" fill="#ff7f0e"/>
<g font-size="17" fill="#222" font-family="DejaVu Sans, sans-serif"><text x="497" y="327">DyMoDreamer without dynamic modulation</text><text x="938" y="327">DyMoDreamer</text></g>

<text x="5" y="478" font-size="62">Results</text>
<g stroke="#222">
<line x1="0" y1="545" x2="1478" y2="545" stroke-width="6"/>
<line x1="0" y1="622" x2="1478" y2="622" stroke-width="4"/>
<line x1="0" y1="746" x2="1478" y2="746" stroke-width="4"/>
<line x1="0" y1="871" x2="1478" y2="871" stroke-width="4"/>
<line x1="0" y1="958" x2="1478" y2="958" stroke-width="4"/>
<line x1="0" y1="1082" x2="1478" y2="1082" stroke-width="4"/>
<line x1="0" y1="1208" x2="1478" y2="1208" stroke-width="4"/>
<line x1="0" y1="1294" x2="1478" y2="1294" stroke-width="4"/>
<line x1="0" y1="1418" x2="1478" y2="1418" stroke-width="4"/>
<line x1="0" y1="1495" x2="1478" y2="1495" stroke-width="6"/>
<g stroke-width="3">
<line x1="295" y1="636" x2="295" y2="738"/><line x1="295" y1="760" x2="295" y2="862"/>
<line x1="295" y1="972" x2="295" y2="1074"/><line x1="295" y1="1096" x2="295" y2="1198"/>
<line x1="295" y1="1308" x2="295" y2="1410"/><line x1="295" y1="1432" x2="295" y2="1482"/>
</g>
</g>
<g class="sf" font-size="40" fill="#111">
<g font-weight="bold" text-anchor="middle"><text x="742" y="596">Atari 100k</text><text x="742" y="932">DeepMind Visual Control Suite</text><text x="738" y="1268">Crafter</text></g>
<g text-anchor="middle">
<text x="441" y="670">OC-STORM</text><text x="441" y="720">(2025)</text><text x="728" y="670">DIAMOND</text><text x="728" y="720">(2024)</text><text x="1004" y="670">DreamerV3</text><text x="1004" y="720">(2023)</text><text x="1310" y="670">DyMoDreamer</text><text x="1310" y="720">(ours)</text>
<text x="441" y="797">134.8%</text><text x="441" y="847">43.8%</text><text x="728" y="797">146%</text><text x="728" y="847">37%</text><text x="1004" y="797">125%</text><text x="1004" y="847">49%</text>
<text x="1310" y="797" font-weight="bold">156.6%</text><text x="1310" y="847" font-weight="bold">71.3%</text>
<text x="441" y="1006">TD-MPC2</text><text x="441" y="1056">(2023)</text><text x="728" y="1006">TWISTER</text><text x="728" y="1056">(2025)</text><text x="1004" y="1006">DreamerV3</text><text x="1004" y="1056">(2023)</text><text x="1310" y="1006">DyMoDreamer</text><text x="1310" y="1056">(ours)</text>
<text x="441" y="1133">720.9</text><text x="441" y="1180">795.9</text><text x="728" y="1133">801.8</text><text x="728" y="1180" font-weight="bold">907.6</text><text x="1004" y="1133">786</text><text x="1004" y="1180">861</text>
<text x="1310" y="1133" font-weight="bold">832</text><text x="1310" y="1180">871</text>
<text x="441" y="1342">IRIS</text><text x="441" y="1393">(2023)</text><text x="728" y="1342">Δ-IRIS</text><text x="728" y="1393">(2024)</text><text x="1004" y="1342">DreamerV3</text><text x="1004" y="1393">(2023)</text><text x="1310" y="1342">DyMoDreamer</text><text x="1310" y="1393">(ours)</text>
<text x="441" y="1466">5.5</text><text x="728" y="1466">7.7</text><text x="1004" y="1466">9.4</text><text x="1310" y="1466" font-weight="bold">10.3</text>
</g>
<text x="22" y="797">HNS Mean</text><text x="22" y="847">HNS Median</text>
<text x="22" y="1133">Task Mean</text><text x="22" y="1180">Task Median</text>
<text x="22" y="1466">Return @1M</text>
</g>
</g>
</svg>
</body></html>
